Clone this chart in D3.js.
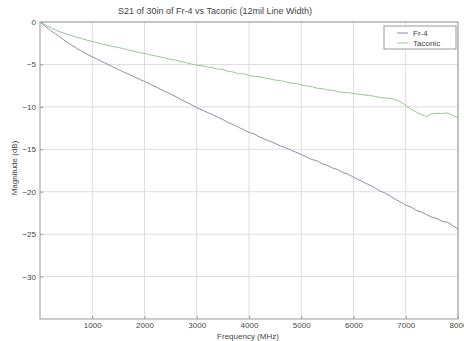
<!DOCTYPE html>
<html>
<head>
<meta charset="utf-8">
<script src="https://cdnjs.cloudflare.com/ajax/libs/d3/7.8.5/d3.min.js"></script>
<style>
  html, body { margin: 0; padding: 0; background: #fff; }
  svg { display: block; font-family: "Liberation Sans", Arial, sans-serif; }
</style>
</head>
<body>
<div id="chart"></div>
<script>
// Chart data
const freqStep = 100; // MHz between samples
const fr4 = [
  0, -0.5, -1.0, -1.4, -1.85, -2.3, -2.7, -3.1, -3.45, -3.8,
  -4.1, -4.4, -4.7, -5.0, -5.3, -5.6, -5.9, -6.15, -6.45, -6.75,
  -7.0, -7.3, -7.6, -7.9, -8.2, -8.5, -8.8, -9.15, -9.45, -9.75,
  -10.1, -10.35, -10.65, -10.9, -11.2, -11.5, -11.85, -12.1, -12.4, -12.7,
  -13.0, -13.2, -13.55, -13.8, -14.05, -14.3, -14.6, -14.8, -15.1, -15.35,
  -15.6, -15.9, -16.2, -16.35, -16.7, -16.9, -17.2, -17.4, -17.75, -17.95,
  -18.3, -18.6, -18.9, -19.2, -19.5, -19.9, -20.15, -20.5, -20.9, -21.2,
  -21.6, -21.8, -22.2, -22.4, -22.7, -23.0, -23.15, -23.5, -23.6, -24.0,
  -24.4
];
const taconic = [
  0, -0.35, -0.65, -0.95, -1.2, -1.4, -1.6, -1.8, -1.95, -2.15,
  -2.3, -2.45, -2.6, -2.75, -2.9, -3.0, -3.15, -3.3, -3.45, -3.6,
  -3.7, -3.85, -4.0, -4.1, -4.25, -4.4, -4.5, -4.65, -4.8, -4.95,
  -5.1, -5.15, -5.3, -5.4, -5.55, -5.6, -5.8, -5.9, -6.1, -6.1,
  -6.3, -6.4, -6.45, -6.6, -6.7, -6.85, -6.9, -7.05, -7.2, -7.25,
  -7.4, -7.55, -7.6, -7.8, -7.85, -8.0, -8.05, -8.2, -8.3, -8.3,
  -8.45, -8.5, -8.6, -8.65, -8.75, -8.9, -8.95, -9.0, -9.15, -9.4,
  -9.8, -10.3, -10.6, -10.9, -11.15, -10.8, -10.75, -10.8, -10.7, -11.0,
  -11.3
];
const seriesNames = ["Fr-4", "Taconic"];
const xTicks = [1000, 2000, 3000, 4000, 5000, 6000, 7000, 8000];
const yTicks = [0, -5, -10, -15, -20, -25, -30];

const width = 464, height = 341;
const colors = ["#8a90a8", "#9cc49c"];

const svg = d3.select("#chart").append("svg")
  .attr("width", width)
  .attr("height", height);

const x = d3.scaleLinear().domain([0, 8000]).range([40, 458]);
const y = d3.scaleLinear().domain([-35, 0]).range([319, 22]);

// grid
const grid = svg.append("g").attr("class", "grid");
grid.selectAll(".gx")
  .data(xTicks)
  .enter().append("line")
    .attr("x1", d => x(d)).attr("x2", d => x(d))
    .attr("y1", y(0)).attr("y2", y(-35))
    .style("stroke", "#dcdcdc")
    .style("stroke-width", 1);
grid.selectAll(".gy")
  .data(yTicks)
  .enter().append("line")
    .attr("x1", x(0)).attr("x2", x(8000))
    .attr("y1", d => y(d)).attr("y2", d => y(d))
    .style("stroke", "#dcdcdc")
    .style("stroke-width", 1);

// axes
const xAxis = svg.append("g")
  .attr("transform", `translate(0,${y(-35)})`)
  .call(d3.axisBottom(x).tickValues(xTicks).tickFormat(d3.format("d")).tickSize(-3).tickPadding(3));
const yAxis = svg.append("g")
  .attr("transform", `translate(${x(0)},0)`)
  .call(d3.axisLeft(y).tickValues(yTicks).tickFormat(d3.format("d")).tickSize(-3).tickPadding(4));

[xAxis, yAxis].forEach(a => {
  a.select(".domain").remove();
  a.selectAll(".tick line").style("stroke", "#999");
  a.selectAll(".tick text")
    .style("font-size", "8px")
    .style("fill", "#444")
    .style("font-family", "Liberation Sans, Arial, sans-serif");
});

// box
svg.append("rect")
  .attr("x", x(0)).attr("y", y(0))
  .attr("width", x(8000) - x(0))
  .attr("height", y(-35) - y(0))
  .style("fill", "none")
  .style("stroke", "#999")
  .style("stroke-width", 1);

// lines
const line = d3.line()
  .x((d, i) => x(i * freqStep))
  .y(d => y(d));

svg.append("g").selectAll("path")
  .data([fr4, taconic])
  .enter().append("path")
    .attr("d", line)
    .style("fill", "none")
    .style("stroke", (d, i) => colors[i])
    .style("stroke-width", 1);

// title and labels
svg.append("text")
  .attr("x", 215).attr("y", 14)
  .style("text-anchor", "middle")
  .style("font-size", "9px")
  .style("fill", "#444")
  .text("S21 of 30in of Fr-4 vs Taconic (12mil Line Width)");

svg.append("text")
  .attr("x", 248).attr("y", 339)
  .style("text-anchor", "middle")
  .style("font-size", "8px")
  .style("fill", "#444")
  .text("Frequency (MHz)");

svg.append("text")
  .attr("transform", "translate(17,168) rotate(-90)")
  .style("text-anchor", "middle")
  .style("font-size", "8px")
  .style("fill", "#444")
  .text("Magnitude (dB)");

// legend
const legend = svg.append("g");
legend.append("rect")
  .attr("x", 384).attr("y", 26)
  .attr("width", 72).attr("height", 23)
  .style("fill", "#fff")
  .style("stroke", "#999");
legend.selectAll(".entry")
  .data(seriesNames)
  .enter().append("g")
    .attr("transform", (d, i) => `translate(0,${33 + i * 10})`)
    .each(function (d, i) {
      const g = d3.select(this);
      g.append("line")
        .attr("x1", 397).attr("x2", 408)
        .style("stroke", colors[i])
        .style("stroke-width", 1);
      g.append("text")
        .attr("x", 413).attr("y", 3)
        .style("font-size", "8px")
        .style("fill", "#444")
        .text(d);
    });
</script>
</body>
</html>
